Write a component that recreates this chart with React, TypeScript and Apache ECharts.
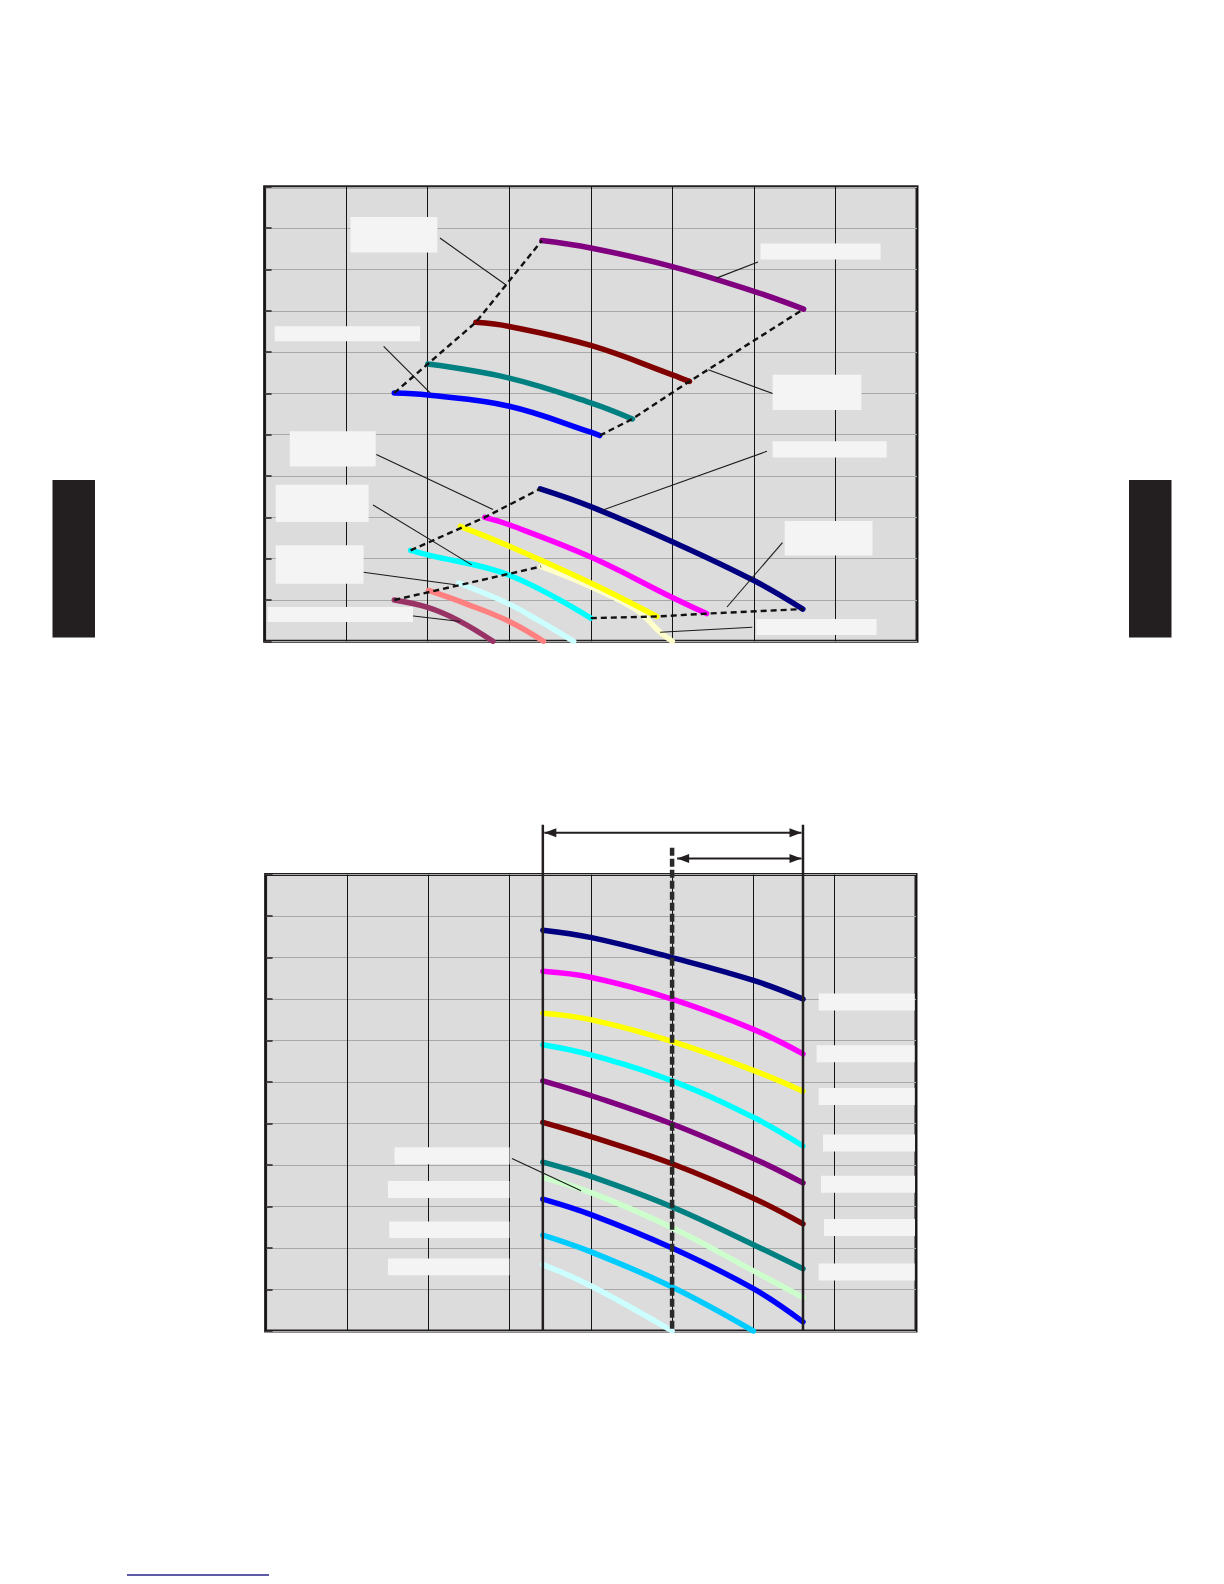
import React, { useEffect, useRef } from "react";
import * as echarts from "echarts";

// ---------- Upper chart (grid 0): x 0..8, y 0..11 ----------
const topPurple = [[3.40, 9.70], [4.0, 9.52], [5.0, 9.07], [6.0, 8.47], [6.61, 8.04]];
const topDarkRed = [[2.59, 7.72], [3.0, 7.62], [4.0, 7.16], [5.0, 6.45], [5.21, 6.29]];
const topTeal = [[2.0, 6.71], [3.0, 6.37], [4.0, 5.77], [4.51, 5.38]];
const topBlue = [[1.59, 6.01], [2.0, 5.96], [3.0, 5.69], [4.0, 5.06], [4.11, 4.98]];

const topNavy = [[3.38, 3.69], [4.0, 3.26], [5.0, 2.41], [6.0, 1.47], [6.60, 0.78]];
const topMagenta = [[2.70, 3.0], [3.0, 2.82], [4.0, 2.04], [5.0, 1.06], [5.42, 0.67]];
const topYellow = [[2.40, 2.78], [3.0, 2.30], [4.0, 1.41], [4.81, 0.60]];
const topCyan = [[1.79, 2.20], [2.0, 2.09], [3.0, 1.60], [4.0, 0.56]];
const topPaleYellow = [[3.39, 1.81], [4.0, 1.32], [4.56, 0.76], [4.85, 0.22], [5.0, 0]];
const topLightCyan = [[2.38, 1.41], [3.0, 0.90], [3.38, 0.48], [3.79, 0]];
const topSalmon = [[2.01, 1.23], [2.48, 0.90], [3.0, 0.48], [3.42, 0]];
const topPlum = [[1.59, 1.0], [2.0, 0.82], [2.38, 0.50], [2.80, 0]];

const topDashes = [
  [[1.59, 6.01], [2.0, 6.71], [2.59, 7.72], [3.40, 9.70]],
  [[4.11, 4.98], [4.51, 5.38], [5.21, 6.29], [6.61, 8.04]],
  [[1.79, 2.20], [2.70, 3.0], [3.38, 3.69]],
  [[1.59, 1.0], [3.39, 1.81]],
  [[4.0, 0.56], [4.81, 0.60], [5.42, 0.67], [6.60, 0.78]],
];

const topLeaders = [
  [[2.15, 9.76], [2.97, 8.61]],
  [[1.46, 7.14], [2.03, 6.01]],
  [[6.05, 9.18], [5.54, 8.79]],
  [[6.24, 5.99], [5.44, 6.57]],
  [[1.37, 4.52], [2.80, 3.19]],
  [[6.16, 4.60], [4.15, 3.18]],
  [[1.33, 3.30], [2.54, 1.85]],
  [[6.35, 2.39], [5.67, 0.83]],
  [[1.21, 1.67], [2.34, 1.37]],
  [[1.80, 0.62], [2.40, 0.48]],
  [[5.98, 0.34], [4.85, 0.22]],
];

// ---------- Lower chart (grid 1): x 0..8, y 0..11 ----------
const botNavy = [[3.41, 9.66], [4.01, 9.48], [5.0, 9.0], [6.0, 8.45], [6.61, 8.0]];
const botMagenta = [[3.41, 8.67], [4.01, 8.52], [5.0, 8.0], [6.0, 7.27], [6.61, 6.68]];
const botYellow = [[3.41, 7.66], [4.01, 7.50], [5.0, 6.98], [6.0, 6.28], [6.61, 5.78]];
const botCyan = [[3.41, 6.90], [4.01, 6.65], [5.0, 6.03], [6.0, 5.15], [6.61, 4.46]];
const botPurple = [[3.41, 6.03], [4.01, 5.67], [5.0, 4.99], [6.0, 4.16], [6.61, 3.57]];
const botDarkRed = [[3.41, 5.03], [4.01, 4.68], [5.0, 4.03], [6.0, 3.20], [6.61, 2.58]];
const botTeal = [[3.41, 4.07], [4.01, 3.72], [5.0, 2.99], [6.0, 2.08], [6.61, 1.50]];
const botPaleGreen = [[3.41, 3.70], [4.01, 3.33], [5.0, 2.49], [6.0, 1.45], [6.61, 0.81]];
const botBlue = [[3.41, 3.18], [4.01, 2.80], [5.0, 2.0], [6.0, 1.02], [6.61, 0.22]];
const botSky = [[3.41, 2.31], [4.01, 1.90], [5.0, 1.06], [6.0, 0]];
const botLightCyan = [[3.41, 1.60], [4.01, 1.08], [5.0, 0]];
const botLeader = [[3.03, 4.16], [3.88, 3.38]];

// range markers of the lower chart (x positions, y heights)
const rangeSolidX = [3.41, 6.61];
const rangeSolidTop = 12.2;
const rangeDashX = 5.0;
const rangeDashTop = 11.65;
const arrowWideY = 12.01;
const arrowNarrowY = 11.39;

// blanked label boxes [x, y, w, h] in page pixels
const labelBoxes = [
  [350.4, 217.1, 86.9, 35.4], [274.7, 326.2, 145.4, 15.1], [760.5, 243.4, 120.1, 16.1],
  [772.6, 374.7, 88.8, 35.3], [289.8, 431.2, 85.9, 35.4], [772.6, 441.3, 114.1, 16.2],
  [275.7, 484.8, 92.9, 37.3], [784.7, 521.1, 87.8, 34.3], [275.7, 545.3, 87.9, 38.4],
  [267.6, 607, 145.4, 15.1], [756.4, 619, 120.2, 16],
  [818.7, 993.6, 96, 17], [816.6, 1045.3, 98, 17], [818.7, 1087.9, 96, 17],
  [823, 1134.4, 92, 17], [821, 1175.8, 94, 17], [824, 1219, 91, 17], [818.7, 1263.4, 96, 17],
  [394.5, 1147.2, 115, 17], [387.9, 1181, 121.5, 17], [389.2, 1221.4, 120.2, 16.5], [387.9, 1258.6, 121.5, 16.6],
];

const FRAME = "#231f20";

export default function App() {
  const ref = useRef<HTMLDivElement>(null);
  useEffect(() => {
    const chart = echarts.init(ref.current as HTMLDivElement, null, { renderer: "svg" });

    const curve = (gi: number, data: number[][], color: string, width = 5.5) => ({
      type: "line", xAxisIndex: gi, yAxisIndex: gi, data, smooth: 0.4,
      symbol: "none", showSymbol: false, silent: true, z: 3, lineStyle: { color, width, cap: "round" },
    });
    const dash = (gi: number, data: number[][]) => ({
      type: "line", xAxisIndex: gi, yAxisIndex: gi, data, symbol: "none", showSymbol: false, silent: true, z: 4,
      lineStyle: { color: "#111", width: 2.4, type: [6, 4] },
    });
    const leader = (gi: number, data: number[][]) => ({
      type: "line", xAxisIndex: gi, yAxisIndex: gi, data, symbol: "none", showSymbol: false, silent: true, z: 4,
      lineStyle: { color: "#1a1a1a", width: 1.1 },
    });

    const gridCommon = { show: true, backgroundColor: "#dcdcdc", borderColor: FRAME, borderWidth: 3 };
    const xAx = (gi: number) => ({
      type: "value", gridIndex: gi, min: 0, max: 8, interval: 1,
      axisLine: { show: false }, axisTick: { show: false }, axisLabel: { show: false },
      splitLine: { show: true, lineStyle: { color: "#141414", width: 1 } },
    });
    const yAx = (gi: number) => ({
      type: "value", gridIndex: gi, min: 0, max: 11, interval: 1,
      axisLine: { show: false }, axisLabel: { show: false },
      axisTick: { show: true, inside: true, length: 7, lineStyle: { color: FRAME, width: 1.5 } },
      splitLine: { show: true, lineStyle: { color: "#a9a9a9", width: 1 } },
    });

    chart.setOption({
      animation: false,
      grid: [
        { ...gridCommon, left: 264.6, top: 186.8, width: 652.4, height: 454.5 },
        { ...gridCommon, left: 265.6, top: 874.6, width: 650.4, height: 456.4 },
      ],
      xAxis: [xAx(0), xAx(1)],
      yAxis: [yAx(0), yAx(1)],
      series: [
        curve(0, topPurple, "#800080"),
        curve(0, topDarkRed, "#800000"),
        curve(0, topTeal, "#008080"),
        curve(0, topBlue, "#0000ff"),
        curve(0, topPlum, "#993366"),
        curve(0, topSalmon, "#ff8080"),
        curve(0, topLightCyan, "#ccffff"),
        curve(0, topPaleYellow, "#ffffcc"),
        curve(0, topCyan, "#00ffff"),
        curve(0, topYellow, "#ffff00"),
        curve(0, topMagenta, "#ff00ff"),
        curve(0, topNavy, "#000080"),
        ...topDashes.map((d) => dash(0, d)),
        ...topLeaders.map((d) => leader(0, d)),
        curve(1, botLightCyan, "#ccffff"),
        curve(1, botSky, "#00ccff"),
        curve(1, botBlue, "#0000ff"),
        curve(1, botPaleGreen, "#ccffcc"),
        curve(1, botTeal, "#008080"),
        curve(1, botDarkRed, "#800000"),
        curve(1, botPurple, "#800080"),
        curve(1, botCyan, "#00ffff"),
        curve(1, botYellow, "#ffff00"),
        curve(1, botMagenta, "#ff00ff"),
        curve(1, botNavy, "#000080"),
        leader(1, botLeader),
      ],
    });

    const px = (x: number, y: number) => chart.convertToPixel({ gridIndex: 1 }, [x, y]) as number[];
    const g: any[] = [];
    // side tabs and footer rule
    g.push({ type: "rect", shape: { x: 52.5, y: 480, width: 42.5, height: 157.5 }, style: { fill: FRAME } });
    g.push({ type: "rect", shape: { x: 1129, y: 480, width: 42.5, height: 157.5 }, style: { fill: FRAME } });
    g.push({ type: "line", shape: { x1: 127, y1: 1575, x2: 269, y2: 1575 }, style: { stroke: "#27238a", lineWidth: 1.5 } });
    labelBoxes.forEach(([x, y, w, h]) =>
      g.push({ type: "rect", z: 20, shape: { x, y, width: w, height: h }, style: { fill: "#f4f4f4" } })
    );
    rangeSolidX.forEach((x) => {
      const a = px(x, 0), b = px(x, rangeSolidTop);
      g.push({ type: "line", z: 15, shape: { x1: a[0], y1: a[1], x2: b[0], y2: b[1] }, style: { stroke: FRAME, lineWidth: 2.5 } });
    });
    {
      const a = px(rangeDashX, 0), b = px(rangeDashX, rangeDashTop);
      g.push({ type: "line", z: 15, shape: { x1: b[0], y1: b[1], x2: a[0], y2: a[1] }, style: { stroke: "#2a2a2a", lineWidth: 4.5, lineDash: [8, 3] } });
    }
    const arrow = (x1: number, x2: number, y: number, gap: number) => {
      const a = px(x1, y), b = px(x2, y);
      const ax = a[0] + gap, bx = b[0] - 1.5;
      g.push({ type: "line", z: 15, shape: { x1: ax, y1: a[1], x2: bx, y2: b[1] }, style: { stroke: FRAME, lineWidth: 2 } });
      g.push({ type: "polygon", z: 15, shape: { points: [[ax, a[1]], [ax + 12, a[1] - 4.5], [ax + 12, a[1] + 4.5]] }, style: { fill: FRAME } });
      g.push({ type: "polygon", z: 15, shape: { points: [[bx, b[1]], [bx - 12, b[1] - 4.5], [bx - 12, b[1] + 4.5]] }, style: { fill: FRAME } });
    };
    arrow(rangeSolidX[0], rangeSolidX[1], arrowWideY, 1.5);
    arrow(rangeDashX, rangeSolidX[1], arrowNarrowY, 5);
    chart.setOption({ graphic: g });

    return () => chart.dispose();
  }, []);
  return <div ref={ref} style={{ position: "absolute", left: 0, top: 0, width: 1224, height: 1584 }} />;
}
